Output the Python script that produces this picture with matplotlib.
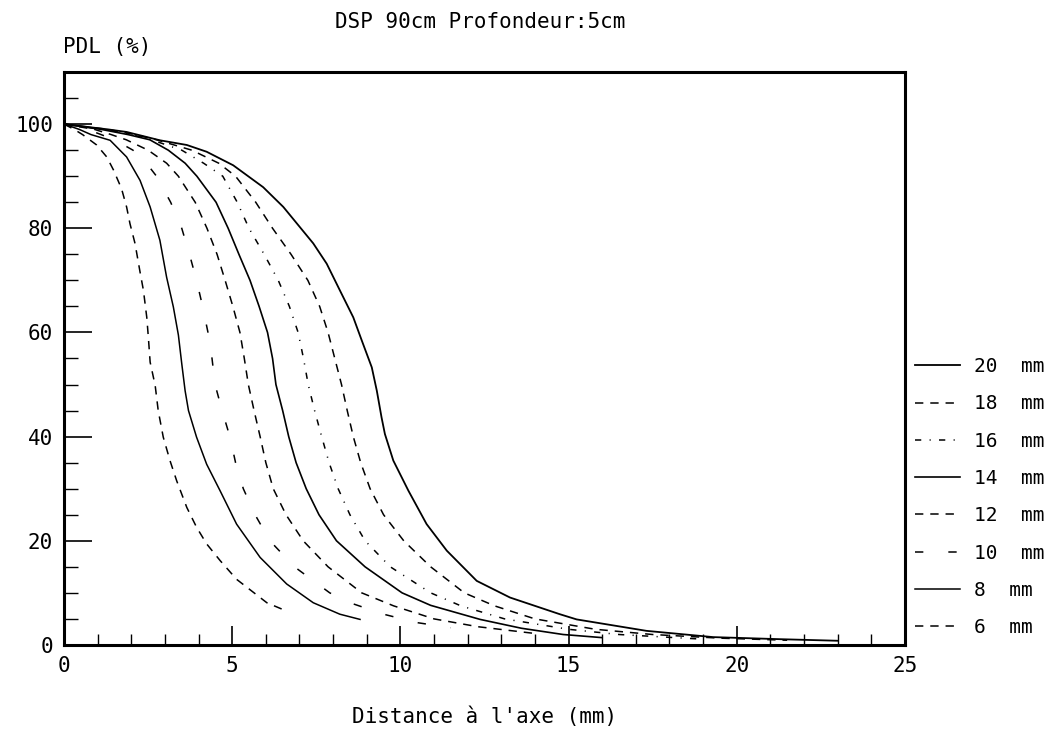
import matplotlib
matplotlib.use("Agg")
import matplotlib.pyplot as plt
from matplotlib.lines import Line2D
from matplotlib.ticker import MultipleLocator

plt.rcParams['font.family'] = ['DejaVu Sans Mono']
plt.rcParams['lines.scale_dashes'] = False

# PDL (%) vs distance to axis (mm), one profile per field size
x_6 = [0, 0.3, 0.55, 0.97, 1.27, 1.47, 1.71, 1.86, 1.96, 2.11, 2.26, 2.36, 2.46, 2.51, 2.56,
       2.71, 2.8, 2.95, 3.15, 3.35, 3.65, 3.94, 4.24, 4.64, 5.13, 5.63, 6.03, 6.47]
y_6 = [100, 99, 98, 96, 93.7, 91.2, 87.6, 84.1, 80.9, 77.1, 71.6, 68.1, 62.9, 58.8, 54.3,
       49.8, 45, 39.9, 35.4, 31.5, 26.4, 22.6, 19.4, 16.2, 12.6, 10.1, 8.1, 6.9]

x_8 = [0, 0.45, 0.8, 1.37, 1.86, 2.26, 2.56, 2.85, 3.05, 3.25, 3.4, 3.5, 3.6, 3.7, 3.94,
       4.24, 4.64, 5.13, 5.83, 6.62, 7.41, 8.2, 8.8]
y_8 = [100, 99, 98, 96.9, 93.7, 89.2, 84.1, 77.7, 70.6, 64.9, 59.5, 54, 48.8, 45, 39.9,
       34.7, 29.6, 23.2, 16.8, 11.7, 8.1, 5.9, 4.9]

x_10 = [0, 0.7, 1.1, 1.5, 2.05, 2.45, 2.75, 3.17, 3.5, 3.73, 3.94, 4.12, 4.28, 4.4, 4.49,
        4.7, 4.93, 5.1, 5.33, 5.68, 6.12, 6.85, 7.9, 8.5, 9.5, 10.48, 11.5]
y_10 = [100, 99, 98, 97, 95, 92.5, 90, 85, 80, 75, 70, 65, 60, 55, 50,
        45, 40, 35, 30, 25, 20, 15, 10, 8.1, 5.9, 4.3, 3.3]

x_12 = [0, 0.9, 1.4, 1.85, 2.5, 3.05, 3.4, 3.9, 4.25, 4.55, 4.79, 5.02, 5.23, 5.36, 5.48,
        5.65, 5.83, 6.0, 6.22, 6.6, 7.11, 7.85, 8.85, 9.8, 11.0, 12.3, 14.0]
y_12 = [100, 99, 98, 97, 95, 92.5, 90, 85, 80, 75, 70, 65, 60, 55, 50,
        45, 40, 35, 30, 25, 20, 15, 10, 7.5, 5.0, 3.5, 2.2]

x_14 = [0, 1.1, 1.9, 2.55, 3.1, 3.6, 3.95, 4.52, 4.88, 5.2, 5.53, 5.8, 6.05, 6.2, 6.3,
        6.5, 6.68, 6.9, 7.2, 7.58, 8.1, 8.95, 10.05, 10.9, 12.37, 13.6, 14.84, 16.0]
y_14 = [100, 99, 98, 97, 95, 92.5, 90, 85, 80, 75, 70, 65, 60, 55, 50,
        45, 40, 35, 30, 25, 20, 15, 10, 7.6, 4.9, 3.2, 2.0, 1.4]

x_16 = [0, 1.2, 2.0, 2.6, 3.5, 4.15, 4.72, 5.15, 5.5, 5.95, 6.37, 6.7, 6.96, 7.12, 7.26,
        7.45, 7.66, 7.88, 8.15, 8.5, 8.95, 9.7, 10.9, 11.8, 13.1, 15.0, 16.5, 19.0]
y_16 = [100, 99, 98, 97, 95, 92.5, 90, 85, 80, 75, 70, 65, 60, 55, 50,
        45, 40, 35, 30, 25, 20, 15, 10, 7.5, 5.0, 3.0, 2.0, 1.1]

x_18 = [0, 1.3, 2.1, 2.75, 3.8, 4.6, 5.1, 5.7, 6.2, 6.75, 7.25, 7.6, 7.85, 8.05, 8.25,
        8.42, 8.6, 8.82, 9.1, 9.5, 10.1, 10.9, 11.9, 12.8, 14.0, 15.8, 17.5, 19.5, 21.5]
y_18 = [100, 99, 98, 97, 95, 92.5, 90, 85, 80, 75, 70, 65, 60, 55, 50,
        45, 40, 35, 30, 25, 20, 15, 10, 7.5, 5.0, 3.0, 2.0, 1.3, 0.9]

x_20 = [0, 1.3, 1.86, 2.85, 3.65, 4.24, 5.03, 5.92, 6.52, 7.41, 7.81, 8.2, 8.6, 8.85, 9.15,
        9.3, 9.44, 9.54, 9.79, 10.24, 10.78, 11.38, 12.27, 13.26, 14.74, 15.24, 17.32, 19.3,
        21.3, 23.0]
y_20 = [100, 99, 98.5, 96.9, 96.0, 94.7, 92.1, 87.9, 84.1, 77.1, 73.2, 68.1, 62.9, 58.5, 53.3,
        48.8, 43.7, 40.5, 35.4, 29.6, 23.2, 18.1, 12.3, 9.1, 5.9, 4.9, 2.7, 1.5,
        1.1, 0.8]

labels = ['20  mm', '18  mm', '16  mm', '14  mm', '12  mm', '10  mm', '8  mm', '6  mm']
xs = [x_20, x_18, x_16, x_14, x_12, x_10, x_8, x_6]
ys = [y_20, y_18, y_16, y_14, y_12, y_10, y_8, y_6]
styles = ['-', (0, (6, 5)), (0, (4.5, 6, 0.8, 6)), '-', (0, (6, 5)), (0, (6, 18)), '-', (0, (6, 5))]
widths = [1.3, 1.1, 1.1, 1.2, 1.1, 1.1, 1.1, 1.1]

fig = plt.figure(figsize=(10.55, 7.43), dpi=100)
ax = fig.add_axes([0.0607, 0.132, 0.797, 0.771])

handles = []
for x, y, ls, lw in zip(xs, ys, styles, widths):
    ax.plot(x, y, color='black', linestyle=ls, linewidth=lw)
    handles.append(Line2D([], [], color='black', linestyle=ls, linewidth=lw))

ax.set_xlim(0, 25)
ax.set_ylim(0, 110)
ax.xaxis.set_major_locator(MultipleLocator(5))
ax.xaxis.set_minor_locator(MultipleLocator(1))
ax.yaxis.set_major_locator(MultipleLocator(20))
ax.yaxis.set_minor_locator(MultipleLocator(5))
ax.tick_params(which='major', direction='in', length=14, width=1.2, labelsize=15, pad=8)
ax.tick_params(which='minor', direction='in', length=8, width=1.0)
ax.tick_params(axis='y', which='major', length=20)
ax.tick_params(axis='y', which='minor', length=10)
for s in ax.spines.values():
    s.set_linewidth(2.2)

ax.set_xlabel("Distance à l'axe (mm)", fontsize=15, labelpad=22)
fig.text(0.06, 0.937, 'PDL (%)', fontsize=15, ha='left', va='center')
fig.text(0.455, 0.97, 'DSP 90cm Profondeur:5cm', fontsize=15, ha='center', va='center')

ax.legend(handles, labels, loc='center left', bbox_to_anchor=(1.012, 0.258),
          frameon=False, fontsize=14, handlelength=2.3, handletextpad=0.75,
          labelspacing=0.94, borderpad=0, borderaxespad=0)

fig.savefig('out.png', dpi=100)
